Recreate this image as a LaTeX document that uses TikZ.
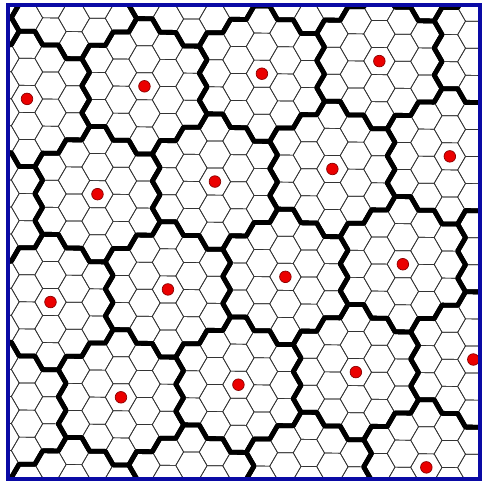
\documentclass[tikz,border=0pt]{standalone}
\usepackage{tikz}
\usepackage{xcolor}
\definecolor{frameblue}{RGB}{10,10,165}
\definecolor{sitered}{RGB}{235,0,0}
\definecolor{darkred}{RGB}{139,0,0}

\begin{document}
\begin{tikzpicture}[x=0.5mm, y=-0.5mm,
    cell/.style={line width=0.35mm, black!80},
    clusterline/.style={line width=2.4mm, black, line join=round},
    site/.style={fill=sitered, draw=darkred, line width=0.35mm}]
    \useasboundingbox (0,0) rectangle (481,482);

    \begin{scope}
        \clip (8,5.5) rectangle (480,479);
        % units: x = hexagon side, y = half hexagon height
        \begin{scope}[shift={(27,98.9)}, yslant=-0.0079, x=7.83mm, y=-6.765mm]
            % --- small hexagonal cells ---
            \foreach \c in {-2,...,20}{
                \foreach \k in {-5,...,15}{
                    \draw[cell] ({1.5*\c},{2*\k+mod(\c,2)}) +(-1,0) -- +(-0.5,1) -- +(0.5,1)
                        -- +(1,0) -- +(0.5,-1) -- +(-0.5,-1) -- cycle;
                }
            }

            % --- 19-cell clusters ---
            \foreach \m in {-1,...,5}{
                \foreach \n in {-2,...,4}{
                    \draw[clusterline, shift={({4.5*\m+7.5*\n},{7*\m-(\n)})}]
                        (-0.5,-5) -- (0.5,-5) -- (1,-4) -- (2,-4) -- (2.5,-3) -- (3.5,-3)
                        -- (4,-2) -- (3.5,-1) -- (4,0) -- (3.5,1) -- (4,2) -- (3.5,3)
                        -- (2.5,3) -- (2,4) -- (1,4) -- (0.5,5) -- (-0.5,5) -- (-1,4)
                        -- (-2,4) -- (-2.5,3) -- (-3.5,3) -- (-4,2) -- (-3.5,1) -- (-4,0)
                        -- (-3.5,-1) -- (-4,-2) -- (-3.5,-3) -- (-2.5,-3) -- (-2,-4)
                        -- (-1,-4) -- cycle;
                }
            }

            % --- cluster centres ---
            \foreach \m/\n in {0/0,0/1,0/2,0/3,1/0,1/1,1/2,1/3,2/-1,2/0,2/1,2/2,
                3/-1,3/0,3/1,3/2,4/1}{
                \filldraw[site] ({4.5*\m+7.5*\n},{7*\m-(\n)}) circle[radius=2.9mm];
            }
        \end{scope}
    \end{scope}

    % Frame
    \draw[frameblue, line width=2mm] (8,5.5) rectangle (480,479);
\end{tikzpicture}
\end{document}
